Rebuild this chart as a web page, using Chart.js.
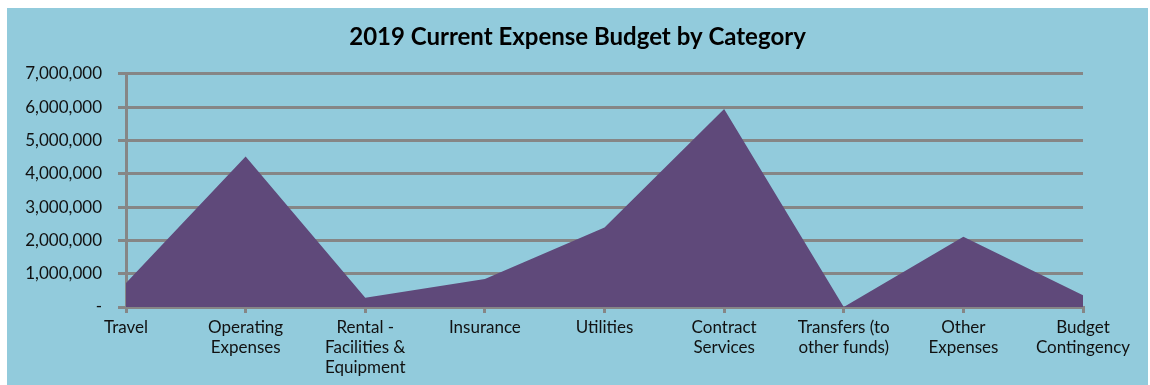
<!DOCTYPE html>
<html>
<head>
<meta charset="utf-8">
<script src="https://cdn.jsdelivr.net/npm/chart.js@4.4.1/dist/chart.umd.min.js"></script>
<style>
  html, body { margin: 0; padding: 0; background: #ffffff; width: 1150px; height: 385px; overflow: hidden; }
  #box { position: absolute; left: 7px; top: 8px; width: 1141px; height: 377px; background: #92CBDC; }
  #box canvas { display: block; }
</style>
</head>
<body>
<div id="box"><canvas id="c" width="1141" height="377"></canvas></div>
<script>
const categories = [
  "Travel",
  ["Operating", "Expenses"],
  ["Rental -", "Facilities &", "Equipment"],
  "Insurance",
  "Utilities",
  ["Contract", "Services"],
  ["Transfers (to", "other funds)"],
  ["Other", "Expenses"],
  ["Budget", "Contingency"]
];
const budgetValues = [720000, 4520000, 280000, 840000, 2390000, 5940000, 0, 2110000, 350000];
const yTickValues = [0, 1000000, 2000000, 3000000, 4000000, 5000000, 6000000, 7000000];
const chartTitle = "2019 Current Expense Budget by Category";

const FONT = "Lato, 'Open Sans', sans-serif";

new Chart(document.getElementById('c'), {
  type: 'line',
  data: {
    labels: categories,
    datasets: [{
      data: budgetValues,
      fill: 'origin',
      backgroundColor: '#5F497A',
      borderColor: '#5F497A',
      borderWidth: 0,
      pointRadius: 0,
      tension: 0
    }]
  },
  options: {
    responsive: false,
    animation: false,
    layout: { padding: 0 },
    plugins: {
      legend: { display: false },
      tooltip: { enabled: false },
      title: {
        display: true,
        text: chartTitle,
        color: '#000000',
        font: { family: FONT, size: 24, weight: 'bold' },
        padding: { top: 15, bottom: 22 }
      }
    },
    scales: {
      x: {
        offset: false,
        grid: { display: true, drawOnChartArea: false, drawTicks: true, tickLength: 6, color: '#868686', lineWidth: 3 },
        border: { display: true, color: '#868686', width: 3 },
        ticks: {
          color: '#111111',
          font: { family: FONT, size: 17 },
          maxRotation: 0,
          autoSkip: false,
          padding: 4
        },
        afterFit: (s) => { s.height = 78; }
      },
      y: {
        min: 0,
        max: 7000000,
        afterBuildTicks: (s) => { s.ticks = yTickValues.map(v => ({ value: v })); },
        grid: { color: '#868686', lineWidth: 3, tickLength: 8, drawTicks: true },
        border: { display: true, color: '#868686', width: 3 },
        ticks: {
          color: '#111111',
          font: { family: FONT, size: 17 },
          padding: 16,
          callback: (v) => v === 0 ? '-' : Number(v).toLocaleString('en-US')
        },
        afterFit: (s) => { s.width = 119; }
      },
      spacer: {
        type: 'linear',
        position: 'right',
        display: true,
        grid: { display: false, drawTicks: false },
        border: { display: false },
        ticks: { display: false },
        afterFit: (s) => { s.width = 65; }
      }
    }
  }
});
</script>
</body>
</html>
